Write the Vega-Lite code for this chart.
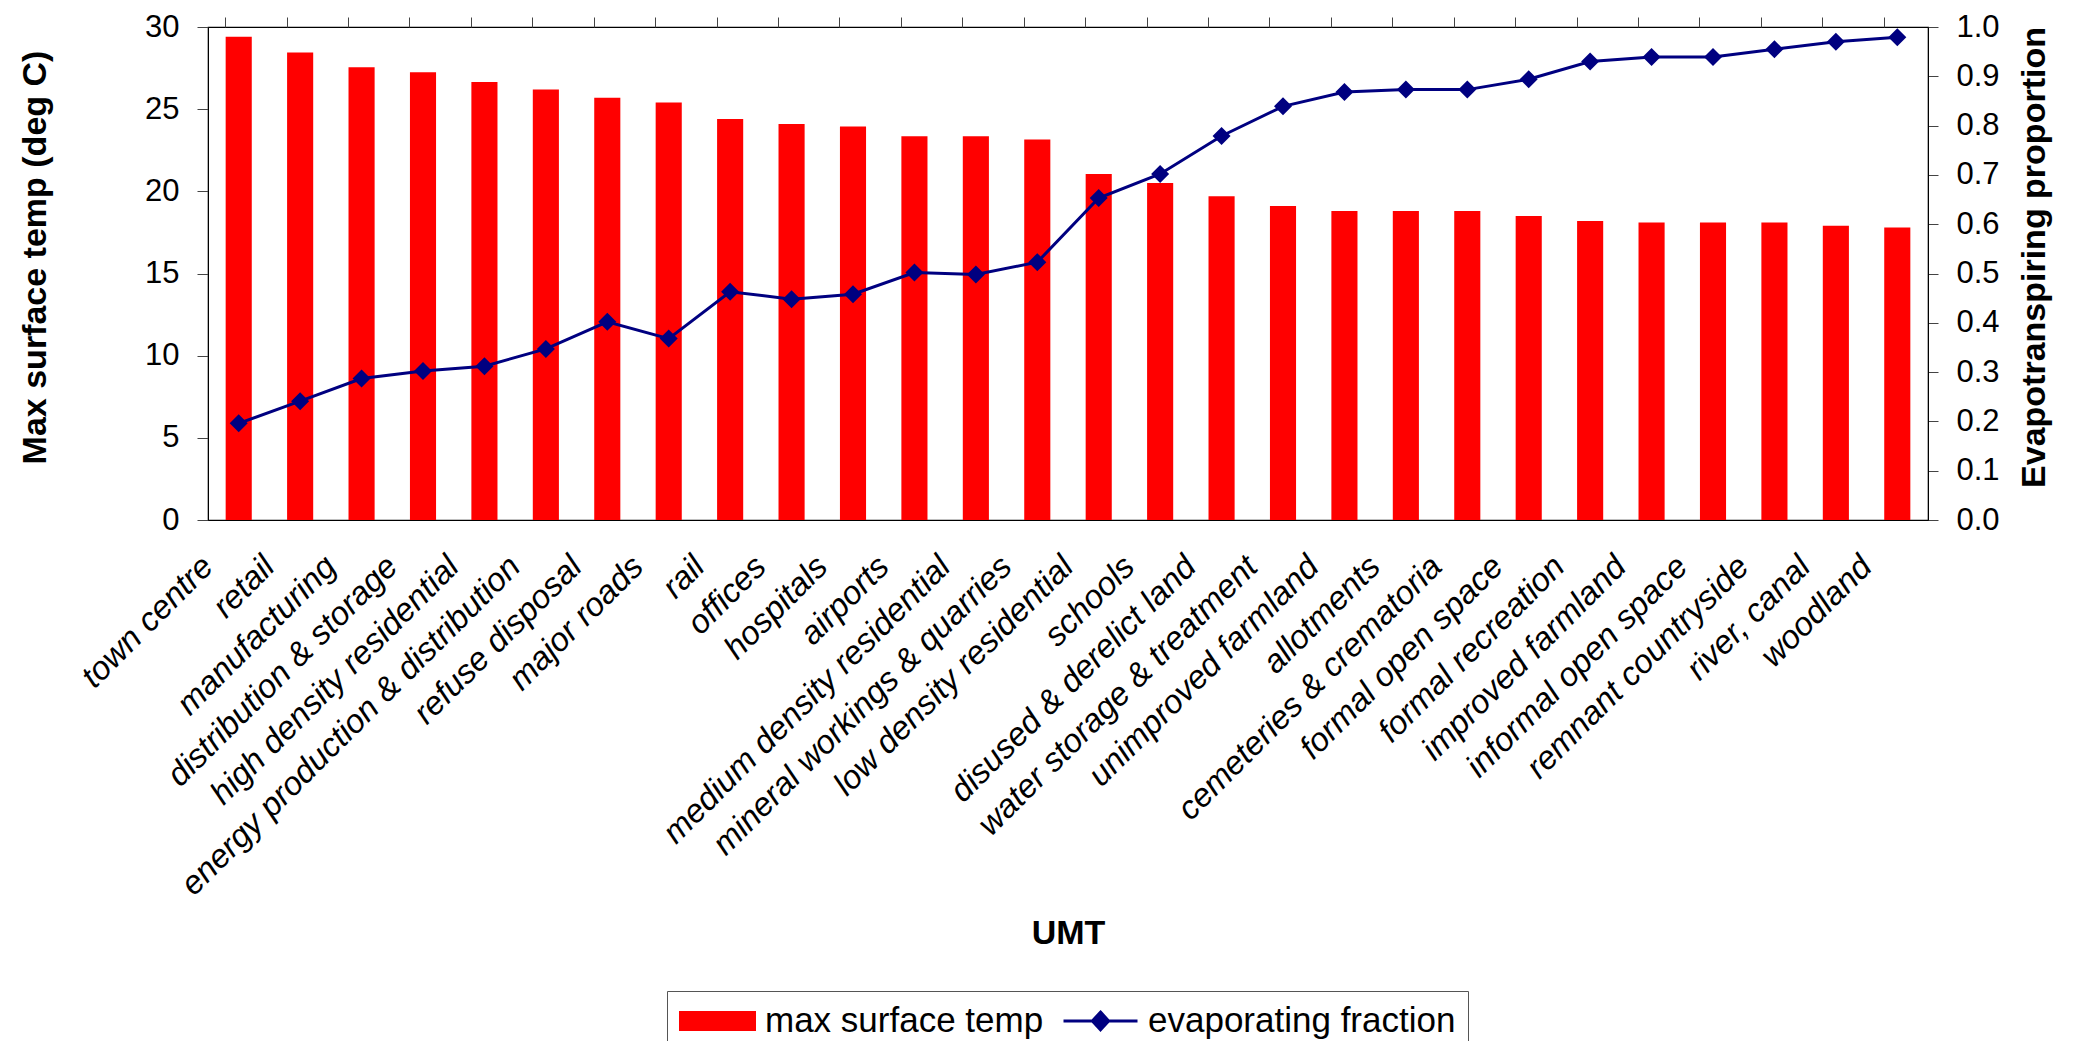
{
  "$schema": "https://vega.github.io/schema/vega-lite/v6.json",
  "autosize": {"type": "none"},
  "width": 1720,
  "height": 493,
  "padding": {"left": 208, "top": 27, "right": 147, "bottom": 521},
  "background": "white",
  "config": {
    "font": "Liberation Sans",
    "view": {"stroke": "black", "strokeWidth": 1.2},
    "axis": {"domainColor": "black", "tickColor": "#444", "labelColor": "black", "titleColor": "black", "grid": false, "labelFont": "Liberation Sans", "titleFont": "Liberation Sans"}
  },
  "data": {
    "values": [
      {"umt": "town centre", "temp": 29.4, "evap": 0.196},
      {"umt": "retail", "temp": 28.45, "evap": 0.241},
      {"umt": "manufacturing", "temp": 27.55, "evap": 0.287},
      {"umt": "distribution & storage", "temp": 27.25, "evap": 0.302},
      {"umt": "high density residential", "temp": 26.65, "evap": 0.312},
      {"umt": "energy production & distribution", "temp": 26.2, "evap": 0.347},
      {"umt": "refuse disposal", "temp": 25.7, "evap": 0.402},
      {"umt": "major roads", "temp": 25.4, "evap": 0.368},
      {"umt": "rail", "temp": 24.4, "evap": 0.463},
      {"umt": "offices", "temp": 24.1, "evap": 0.448},
      {"umt": "hospitals", "temp": 23.95, "evap": 0.458},
      {"umt": "airports", "temp": 23.35, "evap": 0.502},
      {"umt": "medium density residential", "temp": 23.35, "evap": 0.498},
      {"umt": "mineral workings & quarries", "temp": 23.15, "evap": 0.523},
      {"umt": "low density residential", "temp": 21.05, "evap": 0.653},
      {"umt": "schools", "temp": 20.5, "evap": 0.702},
      {"umt": "disused & derelict land", "temp": 19.7, "evap": 0.779},
      {"umt": "water storage & treatment", "temp": 19.1, "evap": 0.839},
      {"umt": "unimproved farmland", "temp": 18.8, "evap": 0.868},
      {"umt": "allotments", "temp": 18.8, "evap": 0.873},
      {"umt": "cemeteries & crematoria", "temp": 18.8, "evap": 0.873},
      {"umt": "formal open space", "temp": 18.5, "evap": 0.894},
      {"umt": "formal recreation", "temp": 18.2, "evap": 0.93},
      {"umt": "improved farmland", "temp": 18.1, "evap": 0.939},
      {"umt": "informal open space", "temp": 18.1, "evap": 0.939},
      {"umt": "remnant countryside", "temp": 18.1, "evap": 0.955},
      {"umt": "river, canal", "temp": 17.9, "evap": 0.97},
      {"umt": "woodland", "temp": 17.8, "evap": 0.979}
    ]
  },
  "layer": [
    {
      "mark": {"type": "bar", "color": "#FF0000"},
      "encoding": {
        "x": {
          "field": "umt", "type": "nominal", "sort": null,
          "scale": {"paddingInner": 0.575, "paddingOuter": 0.2875},
          "axis": {
            "title": "UMT", "titleFontSize": 34, "titleFontWeight": "bold",
            "titleBaseline": "alphabetic", "titleY": 423,
            "labelAngle": -45, "labelFontSize": 33, "labelFontStyle": "italic", "labelLimit": 1000,
            "labelPadding": 30, "labelOffset": -42, "ticks": false, "domain": true, "labelOverlap": false
          }
        },
        "y": {
          "field": "temp", "type": "quantitative",
          "scale": {"domain": [0, 30]},
          "axis": {
            "title": "Max surface temp (deg C)", "titleFontSize": 34, "titleFontWeight": "bold",
            "titlePadding": 92, "titleY": 230,
            "values": [0, 5, 10, 15, 20, 25, 30], "labelFontSize": 31, "tickSize": 11, "labelPadding": 18
          }
        },
        "color": {
          "datum": "max surface temp",
          "scale": {"domain": ["max surface temp", "evaporating fraction"], "range": ["#FF0000", "#000080"]},
          "legend": {
            "title": null, "orient": "none", "legendX": 459, "legendY": 964, "direction": "horizontal",
            "strokeColor": "#555", "fillColor": "white", "padding": 12, "clipHeight": 36,
            "labelFontSize": 35, "labelFont": "Liberation Sans", "labelColor": "black",
            "symbolSize": 5476, "symbolStrokeWidth": 3, "columnPadding": 18, "labelOffset": 9, "labelLimit": 1000,
            "encode": {
              "symbols": {
                "update": {
                  "shape": {"signal": "datum.value === 'max surface temp' ? 'M-1,-0.23L1,-0.23L1,0.23L-1,0.23Z' : 'M-1,0L1,0M0,-0.24L0.22,0L0,0.24L-0.22,0Z'"},
                  "fill": {"signal": "datum.value === 'max surface temp' ? '#FF0000' : '#000080'"},
                  "stroke": {"signal": "datum.value === 'max surface temp' ? '#FF0000' : '#000080'"},
                  "opacity": {"value": 1},
                  "fillOpacity": {"value": 1}
                }
              }
            }
          }
        }
      }
    },
    {
      "mark": {"type": "line", "strokeWidth": 3, "point": {"shape": "diamond", "size": 324, "filled": true}},
      "encoding": {
        "x": {
          "field": "umt", "type": "nominal", "sort": null,
          "axis": {"title": null, "labels": false, "ticks": true, "bandPosition": 0, "tickSize": 10, "domain": false}
        },
        "y": {
          "field": "evap", "type": "quantitative",
          "scale": {"domain": [0, 1]},
          "axis": {
            "orient": "right", "title": "Evapotranspiring proportion", "titleFontSize": 34, "titleFontWeight": "bold",
            "titleAngle": 270, "titleBaseline": "top", "titlePadding": 18, "titleY": 230,
            "values": [0, 0.1, 0.2, 0.3, 0.4, 0.5, 0.6, 0.7, 0.8, 0.9, 1.0], "format": ".1f",
            "labelFontSize": 31, "tickSize": 10, "labelPadding": 18
          }
        },
        "color": {"datum": "evaporating fraction"}
      }
    }
  ],
  "resolve": {"scale": {"y": "independent"}, "axis": {"x": "independent"}}
}
